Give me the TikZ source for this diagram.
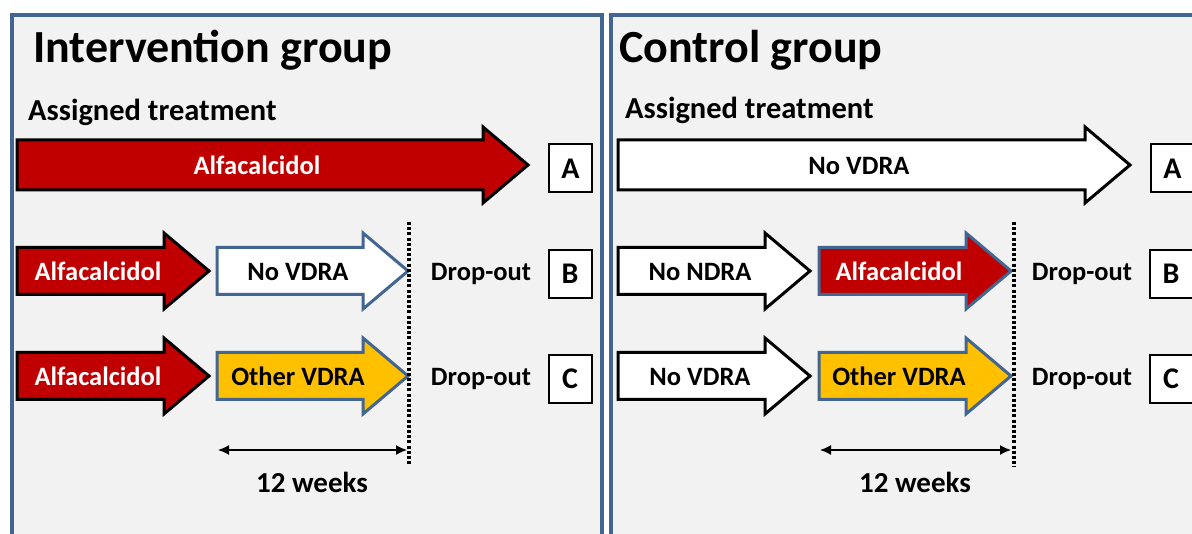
\documentclass[tikz,border=0pt]{standalone}
\usepackage{fontspec}
\setmainfont{Carlito}
\usetikzlibrary{arrows.meta}
\definecolor{panelblue}{RGB}{66,101,146}
\definecolor{panelfill}{RGB}{242,242,242}
\definecolor{vdared}{RGB}{192,0,0}
\definecolor{vdaorange}{RGB}{255,192,0}
\newcommand\blockarrow[5]{% #1 style, #2 x start, #3 x tip, #4 y centre, #5 half shaft
  \draw[#1] (#2,{#4-#5}) -- ({#3-45},{#4-#5}) -- ({#3-45},{#4-38}) -- (#3,#4)
    -- ({#3-45},{#4+38}) -- ({#3-45},{#4+#5}) -- (#2,{#4+#5}) -- cycle;}
\tikzset{
  panel/.style={fill=panelfill, draw=panelblue, line width=4pt},
  redarr/.style={fill=vdared, draw=black, line width=3pt, miter limit=4},
  redarrblue/.style={fill=vdared, draw=panelblue, line width=3pt, miter limit=4},
  whitearr/.style={fill=white, draw=black, line width=3pt, miter limit=4},
  whitearrblue/.style={fill=white, draw=panelblue, line width=3pt, miter limit=4},
  orangearr/.style={fill=vdaorange, draw=panelblue, line width=3pt, miter limit=4},
  title/.style={font=\bfseries\fontsize{46}{50}\selectfont, anchor=base west, inner sep=0pt},
  subtitle/.style={font=\bfseries\fontsize{30.5}{34}\selectfont, anchor=base west, inner sep=0pt},
  lbl/.style={font=\bfseries\fontsize{26.5}{30}\selectfont, text height=17pt, text depth=0pt, inner sep=0pt, anchor=center},
  wlbl/.style={lbl, text=white},
  letterbox/.style={draw=black, fill=white, line width=2pt, minimum width=43pt, minimum height=48pt, inner sep=0pt,
    text height=19.3pt, text depth=0pt, font=\bfseries\fontsize{30}{34}\selectfont},
  cutline/.style={line width=4.5pt, dash pattern=on 3pt off 2.2pt},
  span/.style={line width=1.4pt, {Latex[length=11pt,width=10pt]}-{Latex[length=11pt,width=10pt]}},
  weeks/.style={font=\bfseries\fontsize{29}{33}\selectfont, text height=18.7pt, text depth=0pt, inner sep=0pt}
}
\begin{document}
\begin{tikzpicture}[x=1pt,y=-1pt]
\useasboundingbox (0,0) rectangle (1192,534);
\fill[white] (0,0) rectangle (1192,534);
\clip (0,0) rectangle (1192,534);
% panels
\draw[panel] (11.5,545) -- (11.5,15) -- (602,15) -- (602,545);
\draw[panel] (611,545) -- (611,15) -- (1205,15) -- (1205,545);

% ---------- Intervention group ----------
\node[title] (ititle) at (33,63) {Intervention group};
\node[subtitle] (iassigned) at (28,121) {Assigned treatment};
\blockarrow{redarr}{17}{528}{165}{25}
\node[wlbl] (itop) at (257,166) {Alfacalcidol};
\node[letterbox] (iA) at (570.5,168.5) {A};

\blockarrow{redarr}{17}{209}{271}{23.5}
\node[wlbl] (ib1) at (98,272) {Alfacalcidol};
\blockarrow{whitearrblue}{217}{408}{271}{23.5}
\node[lbl] (ib2) at (298,272) {No VDRA};
\node[lbl] (ibdrop) at (481,272) {Drop-out};
\node[letterbox] (iB) at (570,274) {B};

\blockarrow{redarr}{17}{209}{376}{23.5}
\node[wlbl] (ic1) at (98,377) {Alfacalcidol};
\blockarrow{orangearr}{217}{408}{376}{23.5}
\node[lbl] (ic2) at (298,377) {Other VDRA};
\node[lbl] (icdrop) at (481,377) {Drop-out};
\node[letterbox] (iC) at (570,379) {C};

\coordinate (icuttop) at (409,222);
\coordinate (icutbot) at (409,466);
\draw[cutline] (icuttop) -- (icutbot);
\coordinate (ispanl) at (218,450);
\coordinate (ispanr) at (407,450);
\draw[span] (ispanl) -- (ispanr);
\node[weeks] (iweeks) at (312,483) {12 weeks};

% ---------- Control group ----------
\node[title] (ctitle) at (619,63) {Control group};
\node[subtitle] (cassigned) at (625,119) {Assigned treatment};
\blockarrow{whitearr}{618}{1130}{165}{25}
\node[lbl] (ctop) at (859,166) {No VDRA};
\node[letterbox] (cA) at (1172.5,168.5) {A};

\blockarrow{whitearr}{618}{810}{271}{23.5}
\node[lbl] (cb1) at (700,272) {No NDRA};
\blockarrow{redarrblue}{819}{1011}{271}{23.5}
\node[wlbl] (cb2) at (899,272) {Alfacalcidol};
\node[lbl] (cbdrop) at (1082,272) {Drop-out};
\node[letterbox] (cB) at (1171,274) {B};

\blockarrow{whitearr}{618}{810}{376}{23.5}
\node[lbl] (cc1) at (700,377) {No VDRA};
\blockarrow{orangearr}{819}{1011}{376}{23.5}
\node[lbl] (cc2) at (899,377) {Other VDRA};
\node[lbl] (ccdrop) at (1082,377) {Drop-out};
\node[letterbox] (cC) at (1171,379) {C};

\coordinate (ccuttop) at (1014,222);
\coordinate (ccutbot) at (1014,467);
\draw[cutline] (ccuttop) -- (ccutbot);
\coordinate (cspanl) at (820,450);
\coordinate (cspanr) at (1011,450);
\draw[span] (cspanl) -- (cspanr);
\node[weeks] (cweeks) at (915,483) {12 weeks};
\end{tikzpicture}
\end{document}
